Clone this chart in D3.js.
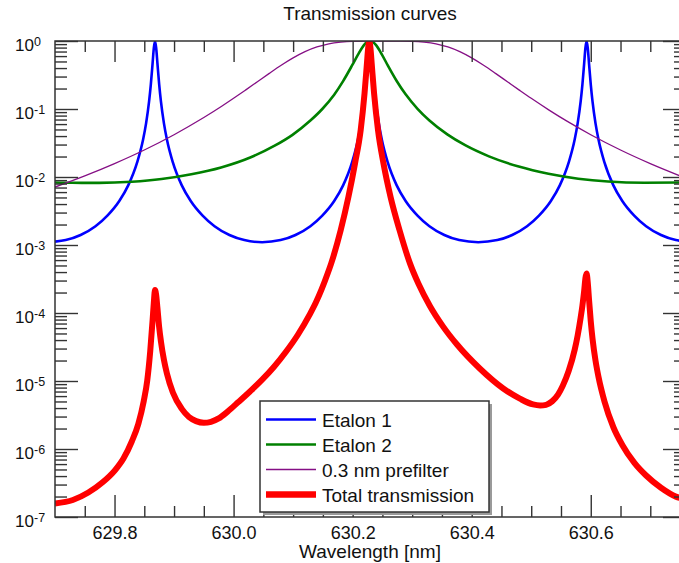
<!DOCTYPE html>
<html>
<head>
<meta charset="utf-8">
<script src="https://cdn.jsdelivr.net/npm/d3@7"></script>
<style>
  body { margin: 0; background: #fff; }
  text { font-family: "Liberation Sans", Arial, Helvetica, sans-serif; fill: #111; }
</style>
</head>
<body>
<svg id="chart" width="679" height="563"></svg>
<script>
// [wavelength nm, log10 transmission]
const etalon1 = [
  [629.700,-2.950],[629.718,-2.928],[629.743,-2.853],[629.768,-2.724],[629.788,-2.568],
  [629.808,-2.353],[629.823,-2.123],[629.838,-1.785],[629.848,-1.448],[629.853,-1.212],
  [629.858,-0.893],[629.861,-0.638],[629.864,-0.321],[629.866,-0.105],[629.868,0],
  [629.870,-0.105],[629.872,-0.321],[629.875,-0.638],[629.878,-0.893],[629.883,-1.212],
  [629.888,-1.448],[629.898,-1.785],[629.913,-2.123],[629.928,-2.353],[629.948,-2.568],
  [629.968,-2.724],[629.993,-2.853],[630.018,-2.928],[630.048,-2.959],[630.079,-2.928],
  [630.104,-2.853],[630.129,-2.724],[630.149,-2.568],[630.169,-2.353],[630.184,-2.123],
  [630.199,-1.785],[630.209,-1.448],[630.214,-1.212],[630.219,-0.893],[630.222,-0.638],
  [630.225,-0.321],[630.227,-0.105],[630.229,0],[630.231,-0.105],[630.233,-0.321],
  [630.236,-0.638],[630.239,-0.893],[630.244,-1.212],[630.249,-1.448],[630.259,-1.785],
  [630.274,-2.123],[630.289,-2.353],[630.309,-2.568],[630.329,-2.724],[630.354,-2.853],
  [630.379,-2.928],[630.411,-2.959],[630.443,-2.928],[630.468,-2.853],[630.493,-2.724],
  [630.513,-2.568],[630.533,-2.353],[630.548,-2.123],[630.563,-1.785],[630.573,-1.448],
  [630.578,-1.212],[630.583,-0.893],[630.586,-0.638],[630.589,-0.321],[630.591,-0.105],
  [630.593,0],[630.595,-0.105],[630.597,-0.321],[630.600,-0.638],[630.603,-0.893],
  [630.608,-1.212],[630.613,-1.448],[630.623,-1.785],[630.638,-2.123],[630.653,-2.353],
  [630.673,-2.568],[630.693,-2.724],[630.718,-2.853],[630.743,-2.928],[630.760,-2.950]
];

const etalon2 = [
  [629.700,-2.080],[629.729,-2.085],[629.774,-2.087],[629.829,-2.070],[629.879,-2.030],
  [629.929,-1.960],[629.979,-1.860],[630.029,-1.710],[630.069,-1.540],[630.099,-1.380],
  [630.129,-1.170],[630.149,-1.000],[630.169,-0.790],[630.184,-0.590],[630.199,-0.360],
  [630.209,-0.200],[630.219,-0.060],[630.224,-0.015],[630.229,0],[630.234,-0.015],
  [630.239,-0.058],[630.249,-0.196],[630.259,-0.359],[630.274,-0.588],[630.289,-0.784],
  [630.309,-0.997],[630.329,-1.169],[630.359,-1.373],[630.389,-1.532],[630.429,-1.696],
  [630.479,-1.847],[630.529,-1.953],[630.579,-2.025],[630.629,-2.067],[630.690,-2.085],
  [630.760,-2.080]
];

const prefilter = [
  [629.70,-2.148],[629.75,-1.984],[629.80,-1.803],[629.85,-1.603],[629.90,-1.378],
  [629.95,-1.126],[629.98,-0.960],[630.00,-0.843],[630.02,-0.722],[630.04,-0.599],
  [630.06,-0.476],[630.08,-0.357],[630.10,-0.249],[630.12,-0.157],[630.14,-0.088],
  [630.16,-0.041],[630.18,-0.016],[630.20,-0.004],[630.22,-0.001],[630.25,0],
  [630.28,-0.001],[630.30,-0.004],[630.32,-0.016],[630.34,-0.041],[630.36,-0.088],
  [630.38,-0.157],[630.40,-0.249],[630.42,-0.357],[630.44,-0.476],[630.46,-0.599],
  [630.48,-0.722],[630.50,-0.843],[630.53,-1.016],[630.56,-1.179],[630.60,-1.378],
  [630.65,-1.603],[630.70,-1.803],[630.76,-2.018]
];

const total = [
  [629.700,-6.80],[629.730,-6.75],[629.756,-6.64],[629.780,-6.49],[629.801,-6.31],
  [629.815,-6.14],[629.829,-5.89],[629.840,-5.63],[629.849,-5.30],[629.855,-4.99],
  [629.860,-4.56],[629.864,-4.10],[629.866,-3.85],[629.868,-3.66],[629.870,-3.74],
  [629.872,-3.92],[629.875,-4.21],[629.878,-4.42],[629.883,-4.69],[629.888,-4.89],
  [629.898,-5.17],[629.913,-5.41],[629.925,-5.53],[629.937,-5.59],[629.950,-5.615],
  [629.962,-5.60],[629.975,-5.55],[629.990,-5.45],[630.008,-5.31],[630.028,-5.15],
  [630.048,-4.98],[630.068,-4.79],[630.088,-4.57],[630.108,-4.32],[630.128,-4.02],
  [630.138,-3.85],[630.148,-3.65],[630.158,-3.42],[630.164,-3.27],[630.180,-2.78],
  [630.193,-2.29],[630.204,-1.80],[630.2135,-1.31],[630.220,-0.77],[630.224,-0.33],
  [630.226,-0.11],[630.228,0],[630.230,-0.11],[630.232,-0.33],[630.236,-0.77],
  [630.2426,-1.31],[630.2518,-1.80],[630.2636,-2.29],[630.2787,-2.78],[630.2963,-3.27],
  [630.3106,-3.57],[630.330,-3.90],[630.352,-4.20],[630.375,-4.46],[630.414,-4.82],
  [630.453,-5.11],[630.481,-5.26],[630.503,-5.345],[630.515,-5.36],[630.525,-5.35],
  [630.535,-5.30],[630.545,-5.20],[630.553,-5.07],[630.563,-4.85],[630.573,-4.54],
  [630.578,-4.33],[630.583,-4.07],[630.586,-3.89],[630.589,-3.67],[630.591,-3.49],
  [630.593,-3.42],[630.595,-3.555],[630.597,-3.79],[630.600,-4.12],[630.603,-4.38],
  [630.608,-4.70],[630.613,-4.94],[630.623,-5.30],[630.638,-5.68],[630.653,-5.94],
  [630.673,-6.20],[630.693,-6.39],[630.718,-6.57],[630.743,-6.70],[630.760,-6.74]
];

const xMajor = [629.8, 630.0, 630.2, 630.4, 630.6];
const xMinor = [629.75, 629.85, 629.9, 629.95, 630.05, 630.1, 630.15, 630.25, 630.3,
                630.35, 630.45, 630.5, 630.55, 630.65, 630.7, 630.75];
const yExponents = [-7, -6, -5, -4, -3, -2, -1, 0];
const seriesNames = ["Etalon 1", "Etalon 2", "0.3 nm prefilter", "Total transmission"];

// plot box (right edge runs past the window, as in the original)
const box = {left: 55, right: 686, top: 41, bottom: 517};

const svg = d3.select('#chart');

const x = d3.scaleLinear().domain([629.7, 630.76]).range([box.left, box.right]);
const y = d3.scaleLog().domain([1e-7, 1]).range([box.bottom, box.top]);

// minor log ticks 2..9 per decade
const yMinor = [];
yExponents.slice(0, -1).forEach(e => {
  for (let k = 2; k <= 9; k++) yMinor.push(k * Math.pow(10, e));
});
const yMajor = yExponents.map(e => Math.pow(10, e));

svg.append('clipPath').attr('id', 'plotclip')
  .append('rect')
  .attr('x', box.left).attr('y', box.top)
  .attr('width', box.right - box.left).attr('height', box.bottom - box.top);

const line = d3.line()
  .x(d => x(d[0]))
  .y(d => y(Math.pow(10, d[1])))
  .curve(d3.curveMonotoneX);

const series = [
  {data: etalon1, color: '#0000ff', width: 2.6},
  {data: etalon2, color: '#008000', width: 2.6},
  {data: prefilter, color: '#850f85', width: 1.3},
  {data: total, color: '#ff0000', width: 6}
];

const curves = svg.append('g').attr('clip-path', 'url(#plotclip)');
series.forEach(s => {
  curves.append('path')
    .datum(s.data)
    .attr('d', line)
    .attr('fill', 'none')
    .attr('stroke', s.color)
    .attr('stroke-width', s.width)
    .attr('stroke-linejoin', 'round');
});

// axes: all ticks point inward
function styleAxis(g) {
  g.select('.domain').remove();
  g.selectAll('.tick line').attr('stroke', '#333').attr('stroke-width', 1.4);
}

svg.append('g')
  .attr('transform', `translate(0,${box.bottom})`)
  .call(d3.axisBottom(x).tickValues(xMajor).tickSizeInner(-22).tickSizeOuter(0)
    .tickPadding(9).tickFormat(d3.format('.1f')))
  .call(styleAxis)
  .selectAll('text').style('font-size', '18px').attr('fill', '#111');

svg.append('g')
  .attr('transform', `translate(0,${box.bottom})`)
  .call(d3.axisBottom(x).tickValues(xMinor).tickSizeInner(-11).tickSizeOuter(0).tickFormat(''))
  .call(styleAxis);

svg.append('g')
  .attr('transform', `translate(0,${box.top})`)
  .call(d3.axisTop(x).tickValues(xMajor).tickSizeInner(-21).tickSizeOuter(0).tickFormat(''))
  .call(styleAxis);

svg.append('g')
  .attr('transform', `translate(0,${box.top})`)
  .call(d3.axisTop(x).tickValues(xMinor).tickSizeInner(-11).tickSizeOuter(0).tickFormat(''))
  .call(styleAxis);

[[d3.axisLeft, box.left], [d3.axisRight, box.right]].forEach(([ax, pos]) => {
  svg.append('g')
    .attr('transform', `translate(${pos},0)`)
    .call(ax(y).tickValues(yMajor).tickSizeInner(-23).tickSizeOuter(0).tickFormat(''))
    .call(styleAxis);
  svg.append('g')
    .attr('transform', `translate(${pos},0)`)
    .call(ax(y).tickValues(yMinor).tickSizeInner(-12).tickSizeOuter(0).tickFormat(''))
    .call(styleAxis);
});

// 10^n labels
const ylab = svg.append('g');
yExponents.forEach(e => {
  const ty = y(Math.pow(10, e));
  ylab.append('text')
    .attr('x', 34).attr('y', ty + 10)
    .attr('text-anchor', 'end')
    .style('font-size', '17px')
    .text('10');
  ylab.append('text')
    .attr('x', 34).attr('y', ty + 4.5)
    .attr('text-anchor', 'start')
    .style('font-size', '12.5px')
    .text(String(e));
});

// frame
svg.append('rect')
  .attr('x', box.left).attr('y', box.top)
  .attr('width', box.right - box.left).attr('height', box.bottom - box.top)
  .attr('fill', 'none').attr('stroke', '#333').attr('stroke-width', 1.5);

svg.append('text')
  .attr('x', 370).attr('y', 20)
  .attr('text-anchor', 'middle')
  .style('font-size', '19px')
  .text('Transmission curves');

svg.append('text')
  .attr('x', 370).attr('y', 558)
  .attr('text-anchor', 'middle')
  .style('font-size', '19px')
  .text('Wavelength [nm]');

// legend
const legend = svg.append('g');
legend.append('rect')
  .attr('x', 263).attr('y', 404).attr('width', 229).attr('height', 111)
  .attr('fill', '#9a9a9a');
legend.append('rect')
  .attr('x', 260).attr('y', 401).attr('width', 229).attr('height', 111)
  .attr('fill', '#fff').attr('stroke', '#333').attr('stroke-width', 1.5);

const rowY = d3.scalePoint().domain(seriesNames).range([419.5, 494.5]);
seriesNames.forEach((name, i) => {
  const s = series[i];
  legend.append('line')
    .attr('x1', 266).attr('x2', 316)
    .attr('y1', rowY(name)).attr('y2', rowY(name))
    .attr('stroke', s.color)
    .attr('stroke-width', i === 3 ? 6.5 : s.width);
  legend.append('text')
    .attr('x', 322).attr('y', rowY(name) + 7)
    .style('font-size', '19px')
    .text(name);
});
</script>
</body>
</html>
